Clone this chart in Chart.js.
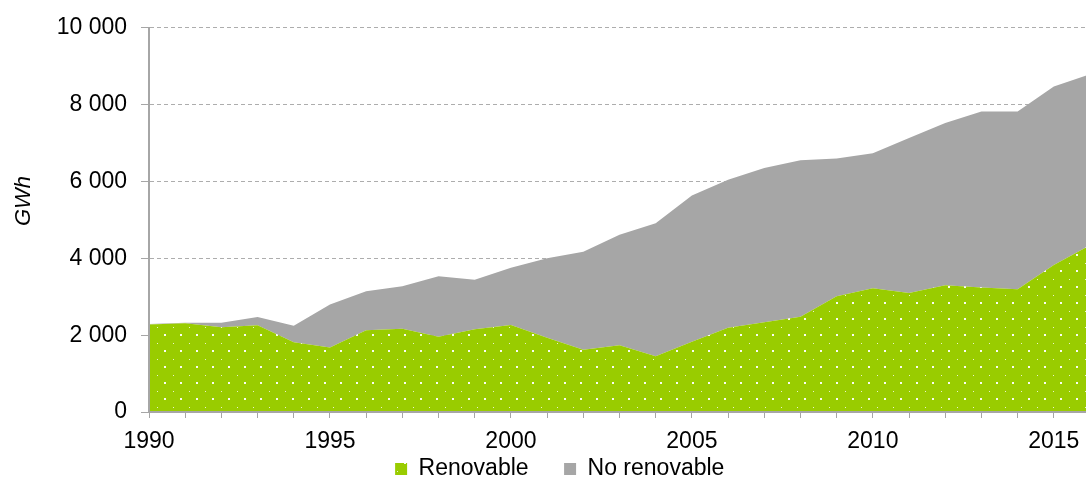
<!DOCTYPE html>
<html>
<head>
<meta charset="utf-8">
<script src="https://cdn.jsdelivr.net/npm/chart.js@4/dist/chart.umd.min.js"></script>
<style>
    html, body { margin: 0; padding: 0; background: #fff; overflow: hidden; }
    #wrap { position: relative; width: 1100px; height: 478px; }
</style>
</head>
<body>
<div id="wrap"><canvas id="energyChart"></canvas></div>
<script>
const years = ['1990', '1991', '1992', '1993', '1994', '1995', '1996', '1997', '1998', '1999',
    '2000', '2001', '2002', '2003', '2004', '2005', '2006', '2007', '2008', '2009',
    '2010', '2011', '2012', '2013', '2014', '2015', '2016'];

// GWh per year
const renovable = [2280, 2310, 2205, 2255, 1815, 1680, 2125, 2170, 1960, 2155,
    2265, 1930, 1620, 1740, 1450, 1830, 2190, 2335, 2480, 3015,
    3220, 3100, 3300, 3240, 3195, 3825, 4340];
const noRenovable = [10, 10, 115, 215, 430, 1120, 1020, 1100, 1575, 1290,
    1490, 2075, 2550, 2875, 3460, 3805, 3855, 4015, 4075, 3580,
    3515, 4030, 4220, 4580, 4625, 4645, 4450];

const yTicks = [0, 2000, 4000, 6000, 8000, 10000];

const GREEN = '#99cc00';
const GREY = '#a6a6a6';
const AXIS = '#a6a6a6';
const FONT = "'Liberation Sans', Arial, sans-serif";

// green fill with a small white dot grid
function dotPattern() {
    const tile = document.createElement('canvas');
    tile.width = 16;
    tile.height = 16;
    const c = tile.getContext('2d');
    c.fillStyle = GREEN;
    c.fillRect(0, 0, 16, 16);
    c.fillStyle = 'rgba(255,255,255,0.95)';
    c.fillRect(4, 14, 2, 2);
    c.fillStyle = 'rgba(255,255,255,0.8)';
    c.fillRect(13, 7, 1, 1);
    return c.createPattern(tile, 'repeat');
}

function spaced(v) {
    return String(v).replace(/\B(?=(\d{3})+(?!\d))/g, ' ');
}

// rotated unit label left of the y axis
const unitLabel = {
    id: 'unitLabel',
    afterDraw(chart) {
        const ctx = chart.ctx;
        ctx.save();
        ctx.translate(23.5, 201);
        ctx.rotate(-Math.PI / 2);
        ctx.font = 'italic 22px ' + FONT;
        ctx.fillStyle = '#000';
        ctx.textAlign = 'center';
        ctx.textBaseline = 'middle';
        ctx.fillText('GWh', 0, 0);
        ctx.restore();
    }
};

// legend row: short box, then pulled up to sit right under the year labels
const legendPlace = {
    id: 'legendPlace',
    beforeLayout(chart) {
        const lg = chart.legend;
        if (lg && !lg._fixed) {
            const fit = lg.fit;
            lg.fit = function() {
                fit.call(this);
                this.height = 26;
            };
            lg._fixed = true;
        }
    },
    afterLayout(chart) {
        const lg = chart.legend;
        if (lg) {
            lg.top = 422;
            lg.bottom = 478;
        }
    }
};

const ctx = document.getElementById('energyChart').getContext('2d');
const pattern = dotPattern();

const energyChart = new Chart(ctx, {
    type: 'line',
    data: {
        labels: years,
        datasets: [{
            label: 'Renovable',
            data: renovable,
            backgroundColor: pattern,
            borderColor: 'transparent',
            borderWidth: 0,
            pointRadius: 0,
            tension: 0,
            fill: 'origin'
        }, {
            label: 'No renovable',
            data: noRenovable,
            backgroundColor: GREY,
            borderColor: 'transparent',
            borderWidth: 0,
            pointRadius: 0,
            tension: 0,
            fill: '-1'
        }]
    },
    options: {
        responsive: true,
        maintainAspectRatio: false,
        animation: false,
        layout: {
            padding: { left: 27.5, right: 8, top: 25, bottom: 0 }
        },
        plugins: {
            legend: {
                position: 'bottom',
                labels: {
                    boxWidth: 12,
                    boxHeight: 12,
                    padding: 35.5,
                    color: '#000',
                    font: { family: FONT, size: 23 }
                }
            },
            tooltip: { enabled: false }
        },
        scales: {
            x: {
                offset: false,
                afterFit(scale) { scale.height = 40; },
                grid: {
                    drawOnChartArea: false,
                    drawTicks: true,
                    tickLength: 6,
                    tickColor: AXIS,
                    tickWidth: 1
                },
                border: { color: AXIS, width: 2, z: 1 },
                ticks: {
                    autoSkip: false,
                    maxRotation: 0,
                    padding: 10,
                    color: '#000',
                    font: { family: FONT, size: 23 },
                    callback: function(value, index) {
                        const y = years[index];
                        return Number(y) % 5 === 0 ? y : '';
                    }
                }
            },
            y: {
                stacked: true,
                min: yTicks[0],
                max: yTicks[yTicks.length - 1],
                afterFit(scale) { scale.width = 121.5; },
                afterBuildTicks(scale) {
                    scale.ticks = yTicks.map(v => ({ value: v }));
                },
                grid: {
                    color: '#adadad',
                    lineWidth: 1,
                    tickLength: 8,
                    tickColor: AXIS,
                    tickWidth: 1,
                    tickBorderDash: []
                },
                border: { color: AXIS, width: 2, dash: [4, 3], z: 1 },
                ticks: {
                    padding: 14,
                    color: '#000',
                    font: { family: FONT, size: 23 },
                    callback: v => spaced(v)
                }
            }
        }
    },
    plugins: [unitLabel, legendPlace]
});
</script>
</body>
</html>
